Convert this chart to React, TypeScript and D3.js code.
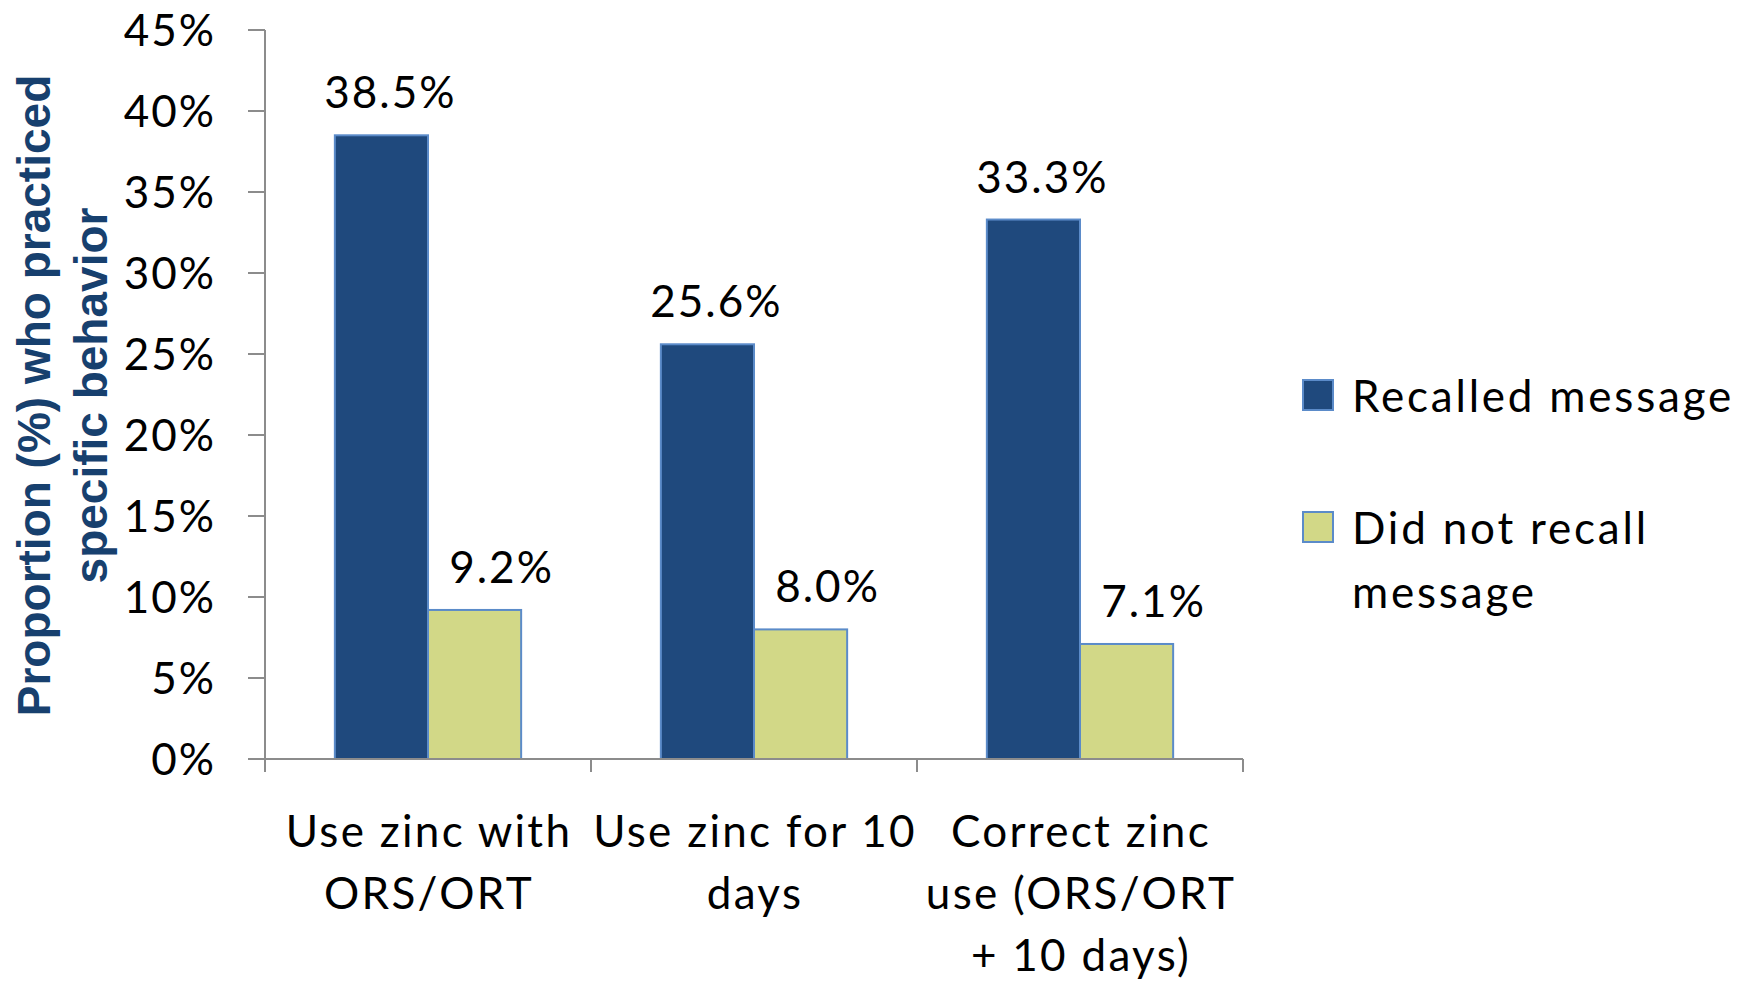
import React from "react";
import * as d3 from "d3";

const categoryLines: string[][] = [
  ["Use zinc with", "ORS/ORT"],
  ["Use zinc for 10", "days"],
  ["Correct zinc", "use (ORS/ORT", "+ 10 days)"],
];
const recalled = [38.5, 25.6, 33.3];
const notRecalled = [9.2, 8.0, 7.1];
const seriesLabels: string[][] = [["Recalled message"], ["Did not recall", "message"]];
const yTicks = [0, 5, 10, 15, 20, 25, 30, 35, 40, 45];
const yTitleLines = ["Proportion (%) who practiced", "specific behavior"];

const W = 1748;
const H = 981;
const FONT = "Lato, 'Open Sans', sans-serif";
const DARK = "#1F497D";
const LIGHT = "#D2D887";
const EDGE = "#5B8BC9";
const AXIS = "#8C8C8C";
const TITLE = "#17406E";

export default function App() {
  const left = 265, right = 1243, top = 30, bottom = 759;
  const x = d3.scaleBand<number>().domain(categoryLines.map((_, i) => i)).range([left, right]).padding(0);
  const y = d3.scaleLinear().domain([0, 45]).range([bottom, top]);
  const bw = x.bandwidth() / 3.5;
  const series = [recalled, notRecalled];
  const fills = [DARK, LIGHT];
  const labelDx = [9, 27];
  const fs = 44;

  return (
    <svg width={W} height={H} style={{ position: "absolute", left: 0, top: 0, background: "#fff" }} fontFamily={FONT}>
      {/* y-axis title */}
      {yTitleLines.map((t, i) => (
        <text
          key={t}
          transform={`translate(${50 + i * 57},${(top + bottom) / 2 + 1}) rotate(-90)`}
          textAnchor="middle"
          fontFamily="'Liberation Sans', Arial, sans-serif"
          fontWeight="bold"
          fontSize={46}
          fill={TITLE}
        >
          {t}
        </text>
      ))}
      {/* y axis */}
      <line x1={left} x2={left} y1={top} y2={bottom} stroke={AXIS} strokeWidth={2} />
      {yTicks.map((t) => (
        <g key={t}>
          <line x1={left - 17} x2={left} y1={y(t)} y2={y(t)} stroke={AXIS} strokeWidth={2} />
          <text x={216} y={y(t) + fs * 0.36} textAnchor="end" fontSize={fs} letterSpacing={2} fill="#000">
            {t}%
          </text>
        </g>
      ))}
      {/* bars */}
      {series.map((vals, s) =>
        vals.map((v, i) => {
          const bx = (x(i) as number) + 0.75 * bw + s * bw;
          return (
            <g key={`${s}-${i}`}>
              <rect x={bx} y={y(v)} width={bw} height={y(0) - y(v)} fill={fills[s]} stroke={EDGE} strokeWidth={2} />
              <text x={bx + bw / 2 + labelDx[s]} y={y(v) - 27} textAnchor="middle" fontSize={fs} letterSpacing={2} fill="#000">
                {v.toFixed(1)}%
              </text>
            </g>
          );
        })
      )}
      {/* x axis */}
      <line x1={left} x2={right} y1={bottom} y2={bottom} stroke={AXIS} strokeWidth={2} />
      {[...categoryLines.map((_, i) => x(i) as number), right].map((px, i) => (
        <line key={i} x1={px} x2={px} y1={bottom} y2={bottom + 13} stroke={AXIS} strokeWidth={2} />
      ))}
      {categoryLines.map((lines, i) => (
        <text key={i} textAnchor="middle" fontSize={fs} letterSpacing={2.3} fill="#000">
          {lines.map((l, j) => (
            <tspan key={j} x={(x(i) as number) + x.bandwidth() / 2 + 1} y={847 + j * 62}>
              {l}
            </tspan>
          ))}
        </text>
      ))}
      {/* legend */}
      {seriesLabels.map((lines, s) => (
        <g key={s}>
          <rect x={1303} y={380 + s * 132} width={30} height={30} fill={fills[s]} stroke={EDGE} strokeWidth={2} />
          <text fontSize={fs} letterSpacing={2.8} fill="#000">
            {lines.map((l, j) => (
              <tspan key={j} x={1352} y={412 + s * 132 + j * 64}>
                {l}
              </tspan>
            ))}
          </text>
        </g>
      ))}
    </svg>
  );
}
